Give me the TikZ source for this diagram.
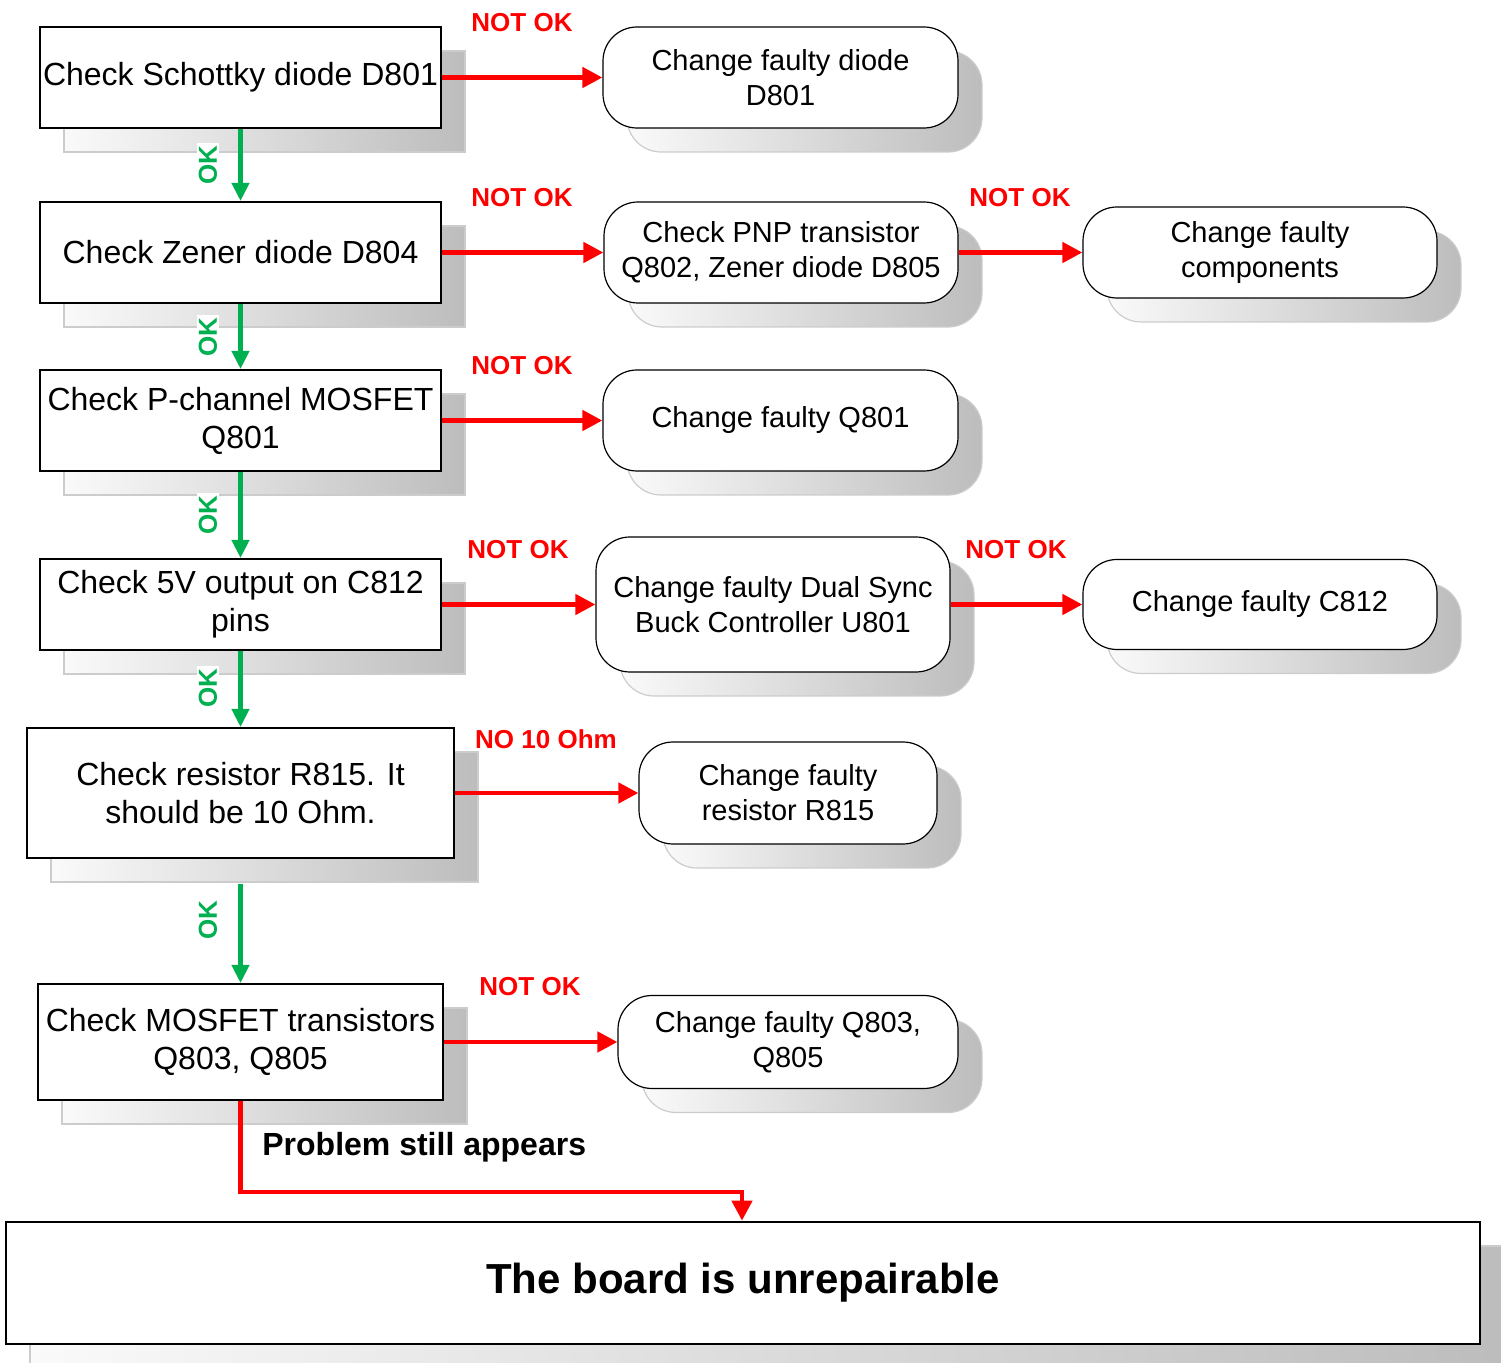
\documentclass[tikz,border=0pt]{standalone}
\usepackage{fontspec}
\setmainfont{Liberation Sans}
\usetikzlibrary{arrows.meta,shadows}
\definecolor{okgreen}{HTML}{00B050}
\definecolor{notred}{HTML}{FF0000}
\begin{document}
\begin{tikzpicture}[x=0.5pt,y=-0.5pt,
  shad/.style={general shadow={shadow xshift=12pt,shadow yshift=-12pt,left color=black!2,right color=black!26,draw=black!20,line width=0.6pt}},
  lbox/.style={draw=black,line width=1pt,fill=white,align=center,inner sep=0pt,font=\fontsize{16}{19}\selectfont,shad},
  rbox/.style={draw=black,line width=0.6pt,fill=white,rounded corners=17pt,align=center,inner sep=0pt,font=\fontsize{14.5}{17.5}\selectfont,shad},
  sz/.style 2 args={minimum width=#1*0.5pt,minimum height=#2*0.5pt},
  lbl/.style={text=notred,inner sep=0pt,font=\fontsize{13}{15}\selectfont\bfseries},
  oklbl/.style={text=okgreen,fill=white,rotate=90,inner sep=1pt,font=\fontsize{13}{15}\selectfont\bfseries},
  ra/.style={draw=notred,line width=2.3pt,-{Triangle[length=10pt,width=10pt]}},
  ga/.style={draw=okgreen,line width=2.1pt,-{Triangle[length=9pt,width=8.5pt]}}]
\useasboundingbox (0,0) rectangle (1501,1363);

% left column
\node[lbox,sz={401}{101}] (b1) at (240.5,77.5) {Check Schottky diode D801};
\node[lbox,sz={401}{101}] (b2) at (240.5,252.5) {Check Zener diode D804};
\node[lbox,sz={401}{101}] (b3) at (240.5,420.5) {Check P-channel MOSFET\\Q801};
\node[lbox,sz={401}{91}] (b4) at (240.5,604.5) {Check 5V output on C812\\pins};
\node[lbox,sz={427}{130}] (b5) at (240.5,793) {Check resistor R815. It\\should be 10 Ohm.};
\node[lbox,sz={405}{116}] (b6) at (240.5,1042) {Check MOSFET transistors\\Q803, Q805};
\node[lbox,line width=1.4pt,sz={1474}{122},font=\fontsize{21}{25}\selectfont\bfseries] (b7) at (743,1283) {\raisebox{-3pt}{The board is unrepairable}};

% right column
\node[rbox,sz={355}{101}] (r1) at (780.5,77.5) {Change faulty diode\\D801};
\node[rbox,sz={354}{101}] (r2) at (781,252.5) {Check PNP transistor\\Q802, Zener diode D805};
\node[rbox,sz={354}{91}] (r3) at (1260,252.5) {Change faulty\\components};
\node[rbox,sz={355}{101}] (r4) at (780.5,420.5) {Change faulty Q801};
\node[rbox,sz={354}{135}] (r5) at (773,604.5) {Change faulty Dual Sync\\Buck Controller U801};
\node[rbox,sz={354}{90}] (r6) at (1260,604.5) {Change faulty C812};
\node[rbox,sz={298}{102}] (r7) at (788,793) {Change faulty\\resistor R815};
\node[rbox,sz={340}{93}] (r8) at (788,1042) {Change faulty Q803,\\Q805};

% red connectors
\draw[ra] (b1.east) -- (r1.west);
\draw[ra] (b2.east) -- (r2.west);
\draw[ra] (r2.east) -- (r3.west);
\draw[ra] (b3.east) -- (r4.west);
\draw[ra] (b4.east) -- (r5.west);
\draw[ra] (r5.east) -- (r6.west);
\draw[ra] (b5.east) -- (r7.west);
\draw[ra] (b6.east) -- (r8.west);
\coordinate (pturn) at (742,1192);
\draw[ra] (b6.south) |- (pturn) -- (b7.north -| pturn);

% green connectors
\draw[ga] (b1.south) -- (b2.north);
\draw[ga] (b2.south) -- (b3.north);
\draw[ga] (b3.south) -- (b4.north);
\draw[ga] (b4.south) -- (b5.north);
\draw[ga] ([yshift=-12.5pt]b5.south) -- (b6.north);

% labels
\node[lbl] (n1) at (522,23) {NOT OK};
\node[lbl] (n2) at (522,198) {NOT OK};
\node[lbl] (n3) at (1020,198) {NOT OK};
\node[lbl] (n4) at (522,366) {NOT OK};
\node[lbl] (n5) at (518,550) {NOT OK};
\node[lbl] (n6) at (1016,550) {NOT OK};
\node[lbl] (n7) at (546,739) {NO 10 Ohm};
\node[lbl] (n8) at (530,987) {NOT OK};
\node[oklbl] (o1) at (208,165) {OK};
\node[oklbl] (o2) at (208,337) {OK};
\node[oklbl] (o3) at (208,515) {OK};
\node[oklbl] (o4) at (208,688) {OK};
\node[oklbl] (o5) at (208,920) {OK};
\node[anchor=west,inner sep=0pt,font=\fontsize{16}{19}\selectfont\bfseries] (ps) at (262,1147) {Problem still appears};
\end{tikzpicture}
\end{document}
